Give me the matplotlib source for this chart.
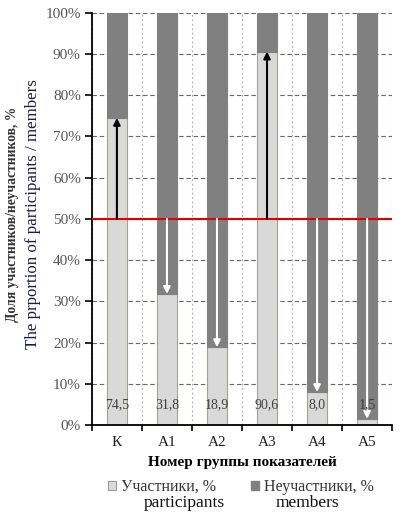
import matplotlib
matplotlib.use("Agg")
import matplotlib.pyplot as plt
import numpy as np
from matplotlib.ticker import FixedLocator, PercentFormatter
from matplotlib.patches import Patch

categories = ["К", "А1", "А2", "А3", "А4", "А5"]
participants = [74.5, 31.8, 18.9, 90.6, 8.0, 1.5]
value_labels = ["74,5", "31,8", "18,9", "90,6", "8,0", "1,5"]
nonparticipants = [100 - v for v in participants]
baseline = 50

plt.rcParams['font.family'] = ['Liberation Serif', 'DejaVu Serif']

fig = plt.figure(figsize=(4.03, 5.13), dpi=100)
ax = fig.add_axes([0.228, 0.1715, 0.745, 0.8035])

x = np.arange(len(categories))
light = '#d9d9d9'
dark = '#808080'
ax.bar(x, participants, width=0.4, color=light, edgecolor='#a3a38a', linewidth=0.8, zorder=2)
ax.bar(x, nonparticipants, width=0.4, bottom=participants, color=dark, edgecolor=dark, linewidth=0.8, zorder=2)

ax.axhline(baseline, color='#e00000', lw=1.5, zorder=4)

for xi, v in zip(x, participants):
    col = 'black' if v > baseline else 'white'
    ax.annotate('', xy=(xi, v), xytext=(xi, baseline),
                arrowprops=dict(arrowstyle='-|>', color=col, lw=1.5,
                                mutation_scale=10, shrinkA=0, shrinkB=0),
                zorder=5)

for xi, lab in zip(x, value_labels):
    ax.text(xi, 5, lab, ha='center', va='center', fontsize=10, color='#404040', zorder=6)

ax.set_xlim(-0.5, 5.5)
ax.set_ylim(0, 100)
ax.yaxis.set_major_locator(FixedLocator(np.arange(0, 101, 10)))
ax.yaxis.set_major_formatter(PercentFormatter(decimals=0))
ax.set_xticks(x)
ax.set_xticklabels(categories)
ax.xaxis.set_minor_locator(FixedLocator(np.arange(-0.5, 5.6, 1)))
ax.tick_params(axis='x', which='major', length=0, labelsize=11, pad=8, colors='#222222')
ax.tick_params(axis='x', which='minor', length=4, width=1.2, direction='out')
ax.tick_params(axis='y', which='major', length=5, width=1.2, labelsize=11, labelcolor='#555555', pad=3)

ax.grid(axis='y', which='major', color='#666666', lw=0.8, ls=(0, (4, 2.5)), zorder=0)
ax.grid(axis='x', which='minor', color='#aaaaaa', lw=0.8, ls=(0, (1.5, 2.5)), zorder=0)
ax.set_axisbelow(True)

for s in ['top', 'right']:
    ax.spines[s].set_visible(False)
ax.spines['left'].set_linewidth(1.3)
ax.spines['bottom'].set_linewidth(1.3)

ax.set_xlabel("Номер группы показателей", fontsize=11, fontweight='bold', labelpad=5)

fig.text(0.03, 0.582, "Доля участников/неучастников, %", rotation=90, ha='center', va='center',
         fontsize=9.8, fontweight='bold', color='#333333')
fig.text(0.082, 0.583, "The prportion of participants / members", rotation=90, ha='center', va='center',
         fontsize=12.2, color='#1a1a4a')

handles = [Patch(facecolor=light, edgecolor='#888888', lw=0.6), Patch(facecolor=dark, edgecolor=dark)]
fig.legend(handles, ["Участники, %", "Неучастники, %"], loc='center', bbox_to_anchor=(0.598, 0.051),
           ncol=2, frameon=False, fontsize=11.5, handlelength=0.5, handleheight=0.5,
           handletextpad=0.3, columnspacing=2.2, labelcolor='#333333')
fig.text(0.457, 0.004, "participants", ha='center', va='bottom', fontsize=12.5, color='#111111')
fig.text(0.762, 0.004, "members", ha='center', va='bottom', fontsize=12.5, color='#111111')

fig.savefig("out.png", dpi=100)
